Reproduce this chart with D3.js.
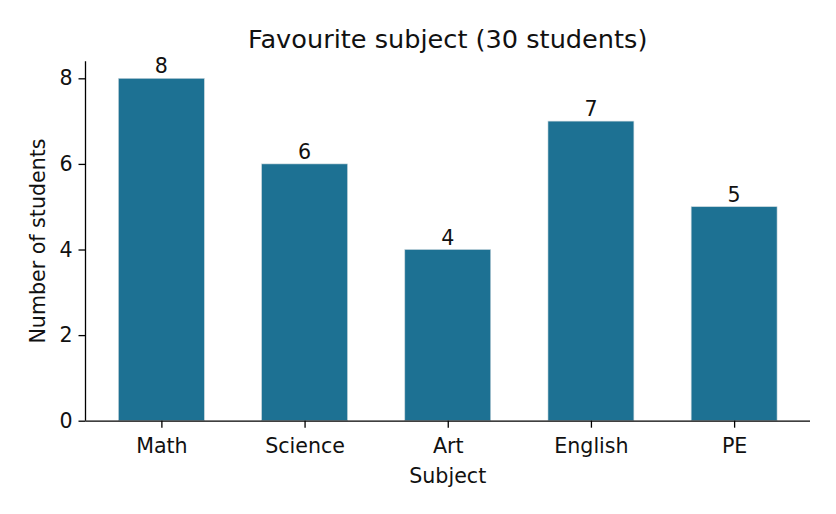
<!DOCTYPE html>
<html><head><meta charset="utf-8">
<script src="https://cdn.jsdelivr.net/npm/d3@7"></script>
<style>body{margin:0;background:#fff;} svg{display:block;font-family:"DejaVu Sans",sans-serif;}</style>
</head><body><svg id="c" width="836" height="514"></svg>
<script>
const categories = ["Math","Science","Art","English","PE"];
const counts = [8,6,4,7,5];
const yTicks = [0,2,4,6,8];
const title = "Favourite subject (30 students)";
const xLabel = "Subject";
const yLabel = "Number of students";

const svg = d3.select("#c");
const L=85.5, R=810, T=61.2, B=420.7;
const n = categories.length, bw = 0.6;
const x = d3.scaleLinear().domain([-bw/2-0.05*(n-1+bw), n-1+bw/2+0.05*(n-1+bw)]).range([L,R]);
const y = d3.scaleLinear().domain([0, 8*1.05]).range([B,T]);
const color = "#1d7193";
const fs = 20.6;

svg.selectAll("rect.bar").data(counts).enter().append("rect")
  .attr("class","bar")
  .attr("x",(d,i)=>x(i-bw/2)).attr("width",(d,i)=>x(i+bw/2)-x(i-bw/2))
  .attr("y",d=>y(d)).attr("height",d=>B-y(d))
  .attr("fill",color).attr("stroke","#c8d6dc").attr("stroke-width",0.6);

svg.selectAll("text.val").data(counts).enter().append("text")
  .attr("x",(d,i)=>x(i)).attr("y",d=>y(d)-5)
  .attr("text-anchor","middle").attr("font-size",fs).attr("fill","#111")
  .text(d=>d);

const xAxis = d3.axisBottom(x).tickValues(d3.range(n)).tickFormat(i=>categories[i]).tickSize(7).tickPadding(11);
const gx = svg.append("g").attr("transform",`translate(0,${B})`).call(xAxis).attr("font-size",fs).attr("font-family","DejaVu Sans");
gx.select(".domain").attr("d",`M${L},0.5H${R}`).attr("stroke","#000").attr("stroke-width",1.3);
gx.selectAll(".tick line").attr("stroke","#000").attr("stroke-width",1.3);
gx.selectAll(".tick text").attr("fill","#111");

const yAxis = d3.axisLeft(y).tickValues(yTicks).tickSize(7).tickPadding(6);
const gy = svg.append("g").attr("transform",`translate(${L},0)`).call(yAxis).attr("font-size",fs).attr("font-family","DejaVu Sans");
gy.select(".domain").attr("d",`M0,${T}V${B}`).attr("stroke","#000").attr("stroke-width",1.3);
gy.selectAll(".tick line").attr("stroke","#000").attr("stroke-width",1.3);
gy.selectAll(".tick text").attr("fill","#111");

svg.append("text").attr("x",(L+R)/2).attr("y",48).attr("text-anchor","middle")
  .attr("font-size",25.6).attr("fill","#111").text(title);
svg.append("text").attr("x",(L+R)/2).attr("y",483).attr("text-anchor","middle")
  .attr("font-size",fs).attr("fill","#111").text(xLabel);
svg.append("text").attr("transform",`translate(45,241) rotate(-90)`).attr("text-anchor","middle")
  .attr("font-size",fs).attr("fill","#111").text(yLabel);
</script></body></html>
